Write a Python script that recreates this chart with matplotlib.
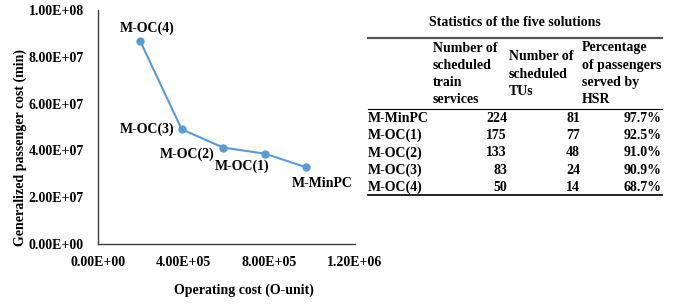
import matplotlib
matplotlib.use("Agg")
import matplotlib.pyplot as plt
from matplotlib.ticker import FuncFormatter

# data
solutions = ["M-OC(4)", "M-OC(3)", "M-OC(2)", "M-OC(1)", "M-MinPC"]
operating_cost = [1.96e5, 3.91e5, 5.85e5, 7.80e5, 9.71e5]
passenger_cost = [8.69e7, 4.90e7, 4.12e7, 3.86e7, 3.28e7]

# table data
table_title = "Statistics of the five solutions"
col_headers = [["Number of", "scheduled", "train", "services"],
               ["Number of", "scheduled", "TUs"],
               ["Percentage", "of passengers", "served by", "HSR"]]
row_names = ["M-MinPC", "M-OC(1)", "M-OC(2)", "M-OC(3)", "M-OC(4)"]
train_services = [224, 175, 133, 83, 50]
scheduled_tus = [81, 77, 48, 24, 14]
pct_hsr = ["97.7%", "92.5%", "91.0%", "90.9%", "68.7%"]

plt.rcParams["font.family"] = ["Liberation Serif", "DejaVu Serif"]
plt.rcParams["font.weight"] = "bold"
fs = 10
W, H = 678, 305

fig = plt.figure(figsize=(W / 100, H / 100), dpi=100)

# ---- line chart ----
ax = fig.add_axes([98 / W, 1 - 244 / H, 257 / W, 234 / H])
ax.plot(operating_cost, passenger_cost, color="#5b9bd5", lw=1.5,
        marker="o", ms=5, zorder=3)
ax.set_xlim(0, 1.2e6)
ax.set_ylim(0, 1.0e8)
ax.set_xticks([0, 4e5, 8e5, 1.2e6])
ax.set_yticks([0, 2e7, 4e7, 6e7, 8e7, 1e8])
sci = FuncFormatter(lambda v, p: "%.2fE+%02d" % (v / 10 ** (len(str(int(v))) - 1) if v else 0,
                                                 len(str(int(v))) - 1 if v else 0))
ax.xaxis.set_major_formatter(sci)
ax.yaxis.set_major_formatter(sci)
ax.tick_params(length=0, labelsize=fs)
ax.tick_params(axis="x", pad=9)
ax.tick_params(axis="y", pad=10)
for lab in ax.get_xticklabels() + ax.get_yticklabels():
    lab.set_fontweight("bold")
for s in ["top", "right"]:
    ax.spines[s].set_visible(False)
for s in ["left", "bottom"]:
    ax.spines[s].set_color("#404040")
    ax.spines[s].set_linewidth(1.0)

# point labels (offsets in pixels)
offsets = {"M-OC(4)": (7, 12, "center"), "M-OC(3)": (-7, 0, "right"),
           "M-OC(2)": (-36, -7, "center"), "M-OC(1)": (-23, -13, "center"),
           "M-MinPC": (16, -16, "center")}
for name, x, y in zip(solutions, operating_cost, passenger_cost):
    dx, dy, ha = offsets[name]
    ax.annotate(name, (x, y), xytext=(dx, dy), textcoords="offset pixels",
                ha=ha, va="center", fontsize=fs, fontweight="bold",
                annotation_clip=False)

fig.text(244 / W, 1 - 290 / H, "Operating cost (O-unit)", ha="center",
         va="center", fontsize=fs, fontweight="bold")
fig.text(20 / W, 1 - 147 / H, "Generalized passenger cost (min)", ha="center",
         va="center", rotation=90, fontsize=fs, fontweight="bold")

# ---- table (drawn in pixel coords on an overlay) ----
tab = fig.add_axes([0, 0, 1, 1])
tab.set_xlim(0, W)
tab.set_ylim(H, 0)
tab.axis("off")

left, right = 368, 662
tab.text((left + right) / 2, 22, table_title, ha="center", va="center",
         fontsize=fs, fontweight="bold")
tab.plot([left, right], [38, 38], color="#555555", lw=1.6)
tab.plot([left, right], [109, 109], color="black", lw=0.8)
tab.plot([left, right], [195, 195], color="black", lw=1.2)

head_x = [433, 509, 582]
head_y0 = [48, 57, 48]
line_h = 17.3
for hx, hy, lines in zip(head_x, head_y0, col_headers):
    for i, t in enumerate(lines):
        tab.text(hx, hy + i * line_h, t, ha="left", va="center",
                 fontsize=fs, fontweight="bold")

num_x = [507, 580, 662]
row_h = 17.25
for i, name in enumerate(row_names):
    y = 118.5 + i * row_h
    tab.text(left, y, name, ha="left", va="center", fontsize=fs, fontweight="bold")
    tab.text(num_x[0], y, str(train_services[i]), ha="right", va="center",
             fontsize=fs, fontweight="bold")
    tab.text(num_x[1], y, str(scheduled_tus[i]), ha="right", va="center",
             fontsize=fs, fontweight="bold")
    tab.text(num_x[2], y, pct_hsr[i], ha="right", va="center",
             fontsize=fs, fontweight="bold")

fig.savefig("out.png", dpi=100)
